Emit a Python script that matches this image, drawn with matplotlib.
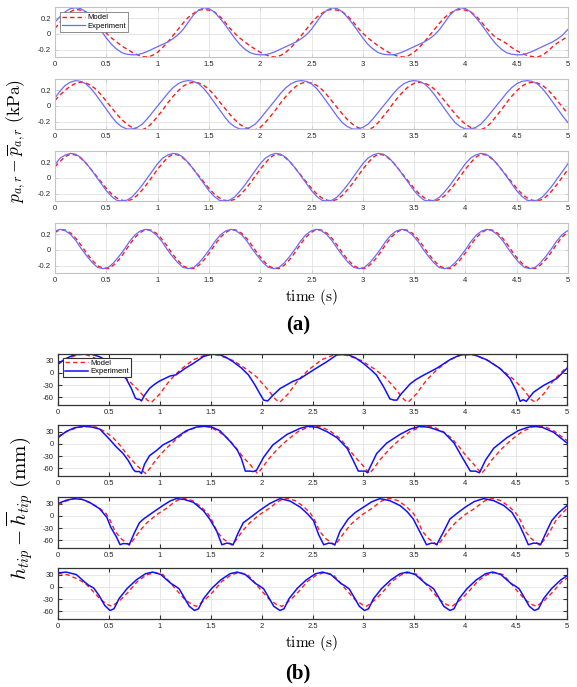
import matplotlib
matplotlib.use('Agg')
import matplotlib.pyplot as plt
import numpy as np

plt.rcParams['font.family'] = ['Liberation Sans', 'DejaVu Sans']
plt.rcParams['mathtext.fontset'] = 'cm'

# ---------------- data ----------------
# panel (a): pressure, kPa, sampled every 0.05 s (rows 1-3) / 0.052 s (row 4)
t_a = np.arange(101) * 0.05
t_a4 = np.arange(98) * 0.052

exp_a1 = [0.15, 0.22, 0.28, 0.32,
          0.33, 0.32, 0.28, 0.21, 0.13, 0.04, -0.05, -0.13, -0.19, -0.235, -0.255, -0.262, -0.262,
          -0.245, -0.22, -0.19, -0.16, -0.13, -0.10, -0.06, -0.01, 0.06, 0.15, 0.24, 0.30,
          0.33, 0.32, 0.28, 0.21, 0.13, 0.04, -0.05, -0.13, -0.19, -0.235, -0.255, -0.262, -0.262,
          -0.245, -0.22, -0.19, -0.16, -0.13, -0.10, -0.06, -0.01, 0.06, 0.15, 0.24, 0.30,
          0.33, 0.32, 0.28, 0.21, 0.13, 0.04, -0.05, -0.13, -0.19, -0.235, -0.255, -0.262, -0.262,
          -0.245, -0.22, -0.19, -0.16, -0.13, -0.10, -0.06, -0.01, 0.06, 0.15, 0.24, 0.30,
          0.33, 0.32, 0.28, 0.21, 0.13, 0.04, -0.05, -0.13, -0.19, -0.235, -0.255, -0.262, -0.262,
          -0.245, -0.22, -0.19, -0.16, -0.13, -0.10, -0.06, -0.01, 0.06]
mod_a1 = [0.07, 0.15, 0.23, 0.28,
          0.31, 0.30, 0.28, 0.23, 0.16, 0.08, 0.01, -0.05, -0.10, -0.15, -0.19, -0.23, -0.26,
          -0.285, -0.29, -0.27, -0.23, -0.17, -0.10, -0.02, 0.06, 0.14, 0.21, 0.26, 0.30,
          0.31, 0.30, 0.28, 0.23, 0.16, 0.08, 0.01, -0.05, -0.10, -0.15, -0.19, -0.23, -0.26,
          -0.285, -0.29, -0.27, -0.23, -0.17, -0.10, -0.02, 0.06, 0.14, 0.21, 0.26, 0.30,
          0.31, 0.30, 0.28, 0.23, 0.16, 0.08, 0.01, -0.05, -0.10, -0.15, -0.19, -0.23, -0.26,
          -0.285, -0.29, -0.27, -0.23, -0.17, -0.10, -0.02, 0.06, 0.14, 0.21, 0.26, 0.30,
          0.31, 0.30, 0.28, 0.23, 0.16, 0.08, 0.01, -0.05, -0.08, -0.12, -0.17, -0.21, -0.245,
          -0.27, -0.285, -0.29, -0.27, -0.22, -0.16, -0.11, -0.07, -0.03]

exp_a2 = [0.10, 0.19, 0.26, 0.30,
          0.32, 0.31, 0.28, 0.22, 0.14, 0.05, -0.04, -0.13, -0.21, -0.26, -0.29,
          -0.29, -0.27, -0.23, -0.16, -0.08, 0.00, 0.08, 0.16, 0.23, 0.28, 0.31,
          0.32, 0.31, 0.28, 0.22, 0.14, 0.05, -0.04, -0.13, -0.21, -0.26, -0.29,
          -0.29, -0.27, -0.23, -0.16, -0.08, 0.00, 0.08, 0.16, 0.23, 0.28, 0.31,
          0.32, 0.31, 0.28, 0.22, 0.14, 0.05, -0.04, -0.13, -0.21, -0.26, -0.29,
          -0.29, -0.27, -0.23, -0.16, -0.08, 0.00, 0.08, 0.16, 0.23, 0.28, 0.31,
          0.32, 0.31, 0.28, 0.22, 0.14, 0.05, -0.04, -0.13, -0.21, -0.26, -0.29,
          -0.29, -0.27, -0.23, -0.16, -0.08, 0.00, 0.08, 0.16, 0.23, 0.28, 0.31,
          0.32, 0.31, 0.28, 0.22, 0.14, 0.05, -0.04, -0.13, -0.21]
mod_a2 = [0.07, 0.14, 0.20, 0.25, 0.285,
          0.30, 0.29, 0.26, 0.21, 0.14, 0.06, -0.02, -0.10, -0.17, -0.23, -0.27,
          -0.295, -0.30, -0.27, -0.21, -0.13, -0.05, 0.04, 0.12, 0.19, 0.25, 0.285,
          0.30, 0.29, 0.26, 0.21, 0.14, 0.06, -0.02, -0.10, -0.17, -0.23, -0.27,
          -0.295, -0.30, -0.27, -0.21, -0.13, -0.05, 0.04, 0.12, 0.19, 0.25, 0.285,
          0.30, 0.29, 0.26, 0.21, 0.14, 0.06, -0.02, -0.10, -0.17, -0.23, -0.27,
          -0.295, -0.30, -0.27, -0.21, -0.13, -0.05, 0.04, 0.12, 0.19, 0.25, 0.285,
          0.30, 0.29, 0.26, 0.21, 0.14, 0.06, -0.02, -0.10, -0.17, -0.23, -0.27,
          -0.295, -0.30, -0.27, -0.21, -0.13, -0.05, 0.04, 0.12, 0.19, 0.25, 0.285,
          0.30, 0.29, 0.26, 0.21, 0.14, 0.06, -0.02, -0.10]

exp_a3 = [0.17, 0.25, 0.29,
          0.31, 0.30, 0.26, 0.19, 0.11, 0.02, -0.07, -0.16, -0.23, -0.28,
          -0.29, -0.28, -0.24, -0.17, -0.09, 0.00, 0.09, 0.18, 0.25, 0.29,
          0.31, 0.30, 0.26, 0.19, 0.11, 0.02, -0.07, -0.16, -0.23, -0.28,
          -0.29, -0.28, -0.24, -0.17, -0.09, 0.00, 0.09, 0.18, 0.25, 0.29,
          0.31, 0.30, 0.26, 0.19, 0.11, 0.02, -0.07, -0.16, -0.23, -0.28,
          -0.29, -0.28, -0.24, -0.17, -0.09, 0.00, 0.09, 0.18, 0.25, 0.29,
          0.31, 0.30, 0.26, 0.19, 0.11, 0.02, -0.07, -0.16, -0.23, -0.28,
          -0.29, -0.28, -0.24, -0.17, -0.09, 0.00, 0.09, 0.18, 0.25, 0.29,
          0.31, 0.30, 0.26, 0.19, 0.11, 0.02, -0.07, -0.16, -0.23, -0.28,
          -0.29, -0.28, -0.24, -0.17, -0.09, 0.00, 0.09, 0.18]
mod_a3 = [0.14, 0.21, 0.27,
          0.30, 0.29, 0.25, 0.19, 0.11, 0.03, -0.05, -0.13, -0.20, -0.25,
          -0.28, -0.29, -0.27, -0.22, -0.15, -0.07, 0.02, 0.11, 0.19, 0.26,
          0.30, 0.29, 0.25, 0.19, 0.11, 0.03, -0.05, -0.13, -0.20, -0.25,
          -0.28, -0.29, -0.27, -0.22, -0.15, -0.07, 0.02, 0.11, 0.19, 0.26,
          0.30, 0.29, 0.25, 0.19, 0.11, 0.03, -0.05, -0.13, -0.20, -0.25,
          -0.28, -0.29, -0.27, -0.22, -0.15, -0.07, 0.02, 0.11, 0.19, 0.26,
          0.30, 0.29, 0.25, 0.19, 0.11, 0.03, -0.05, -0.13, -0.20, -0.25,
          -0.28, -0.29, -0.27, -0.22, -0.15, -0.07, 0.02, 0.11, 0.19, 0.26,
          0.30, 0.29, 0.25, 0.19, 0.11, 0.03, -0.05, -0.13, -0.20, -0.25,
          -0.28, -0.29, -0.27, -0.22, -0.15, -0.07, 0.02, 0.11]

exp_a4 = [0.24,
          0.26, 0.24, 0.19, 0.11, 0.01, -0.08, -0.16, -0.22, -0.235, -0.22, -0.16, -0.08, 0.01, 0.11, 0.19, 0.24,
          0.26, 0.24, 0.19, 0.11, 0.01, -0.08, -0.16, -0.22, -0.235, -0.22, -0.16, -0.08, 0.01, 0.11, 0.19, 0.24,
          0.26, 0.24, 0.19, 0.11, 0.01, -0.08, -0.16, -0.22, -0.235, -0.22, -0.16, -0.08, 0.01, 0.11, 0.19, 0.24,
          0.26, 0.24, 0.19, 0.11, 0.01, -0.08, -0.16, -0.22, -0.235, -0.22, -0.16, -0.08, 0.01, 0.11, 0.19, 0.24,
          0.26, 0.24, 0.19, 0.11, 0.01, -0.08, -0.16, -0.22, -0.235, -0.22, -0.16, -0.08, 0.01, 0.11, 0.19, 0.24,
          0.26, 0.24, 0.19, 0.11, 0.01, -0.08, -0.16, -0.22, -0.235, -0.22, -0.16, -0.08, 0.01, 0.11, 0.19, 0.24,
          0.26]
mod_a4 = [0.22,
          0.26, 0.25, 0.21, 0.14, 0.05, -0.05, -0.13, -0.20, -0.23, -0.235, -0.19, -0.12, -0.03, 0.07, 0.16, 0.22,
          0.26, 0.25, 0.21, 0.14, 0.05, -0.05, -0.13, -0.20, -0.23, -0.235, -0.19, -0.12, -0.03, 0.07, 0.16, 0.22,
          0.26, 0.25, 0.21, 0.14, 0.05, -0.05, -0.13, -0.20, -0.23, -0.235, -0.19, -0.12, -0.03, 0.07, 0.16, 0.22,
          0.26, 0.25, 0.21, 0.14, 0.05, -0.05, -0.13, -0.20, -0.23, -0.235, -0.19, -0.12, -0.03, 0.07, 0.16, 0.22,
          0.26, 0.25, 0.21, 0.14, 0.05, -0.05, -0.13, -0.20, -0.23, -0.235, -0.19, -0.12, -0.03, 0.07, 0.16, 0.22,
          0.26, 0.25, 0.21, 0.14, 0.05, -0.05, -0.13, -0.20, -0.23, -0.235, -0.19, -0.12, -0.03, 0.07, 0.16, 0.22,
          0.26]

# panel (b): tip displacement, mm, (time s, value) pairs
exp_b1 = [(0, 22), (0.07, 34), (0.15, 43), (0.22, 46), (0.32, 46), (0.4, 40), (0.5, 28), (0.6, 8),
          (0.67, -15), (0.72, -38), (0.76, -62), (0.78, -65), (0.8, -65), (0.82, -69), (0.85, -55),
          (0.9, -38), (0.95, -28), (1.0, -20), (1.1, -8), (1.16, -5), (1.25, 11), (1.33, 23), (1.43, 40),
          (1.5, 45), (1.58, 45), (1.65, 38), (1.72, 27), (1.8, 12), (1.87, -5), (1.93, -28), (1.98, -50),
          (2.02, -67), (2.06, -69), (2.1, -58), (2.18, -39), (2.3, -22), (2.38, -14), (2.51, 7), (2.64, 27),
          (2.74, 44), (2.84, 45), (2.92, 37), (3.0, 23), (3.08, 6), (3.13, -6), (3.2, -35), (3.26, -64),
          (3.3, -67), (3.33, -67), (3.36, -55), (3.46, -27), (3.52, -16), (3.59, -6), (3.72, 11), (3.85, 32),
          (3.95, 44), (4.08, 45), (4.15, 38), (4.21, 32), (4.34, 11), (4.44, -14), (4.5, -43), (4.54, -70),
          (4.57, -66), (4.6, -70), (4.67, -48), (4.77, -31), (4.9, -14), (5.0, 11)]
mod_b1 = [(0, 21), (0.07, 32), (0.19, 44), (0.26, 45), (0.33, 40), (0.46, 23), (0.59, 2), (0.69, -18),
          (0.79, -43), (0.88, -68), (0.92, -72), (1.0, -52), (1.1, -18), (1.2, 7), (1.33, 32), (1.45, 44),
          (1.52, 45), (1.59, 42), (1.72, 30), (1.85, 9), (1.95, -10), (2.05, -38), (2.14, -66), (2.18, -72),
          (2.26, -52), (2.36, -18), (2.46, 7), (2.59, 32), (2.71, 44), (2.78, 45), (2.85, 42), (2.98, 30),
          (3.11, 9), (3.21, -10), (3.31, -38), (3.4, -66), (3.44, -72), (3.52, -52), (3.62, -18), (3.72, 7),
          (3.85, 32), (3.97, 44), (4.04, 45), (4.11, 42), (4.24, 28), (4.37, 5), (4.47, -15), (4.57, -40),
          (4.65, -66), (4.69, -72), (4.77, -52), (4.87, -18), (4.97, 7), (5.0, 14)]

exp_b2 = [(0, 15), (0.08, 30), (0.16, 39), (0.25, 43), (0.33, 41), (0.41, 36), (0.51, 10), (0.57, -7),
          (0.64, -24), (0.69, -41), (0.74, -63), (0.76, -68), (0.8, -68), (0.82, -73), (0.85, -50),
          (0.9, -29), (0.97, -16), (1.03, -3), (1.13, 10), (1.26, 32), (1.36, 41), (1.45, 43), (1.52, 40),
          (1.59, 32), (1.69, 6), (1.76, -15), (1.8, -35), (1.84, -67), (1.88, -67), (1.92, -68), (1.95, -65),
          (2.02, -33), (2.11, -3), (2.25, 23), (2.38, 38), (2.46, 43), (2.55, 40), (2.64, 30), (2.74, 15),
          (2.84, -11), (2.9, -41), (2.95, -67), (3.02, -67), (3.04, -71), (3.08, -50), (3.13, -24), (3.23, 2),
          (3.36, 23), (3.46, 36), (3.56, 43), (3.65, 40), (3.72, 34), (3.79, 28), (3.89, 2), (3.97, -33),
          (4.05, -67), (4.1, -67), (4.14, -71), (4.2, -40), (4.28, -11), (4.41, 15), (4.52, 32), (4.61, 40),
          (4.67, 43), (4.76, 40), (4.87, 28), (5.0, 2)]
mod_b2 = [(0, 18), (0.1, 32), (0.2, 40), (0.3, 43), (0.37, 41), (0.46, 30), (0.54, 15), (0.61, -4),
          (0.69, -30), (0.77, -52), (0.86, -73), (0.91, -58), (0.96, -40), (1.06, -12), (1.16, 11),
          (1.26, 30), (1.36, 41), (1.42, 43), (1.49, 41), (1.58, 30), (1.66, 15), (1.73, -4), (1.81, -30),
          (1.89, -52), (1.96, -73), (2.01, -58), (2.06, -40), (2.16, -12), (2.26, 11), (2.36, 30), (2.46, 41),
          (2.52, 43), (2.59, 41), (2.68, 30), (2.76, 15), (2.83, -4), (2.91, -30), (2.99, -52), (3.06, -73),
          (3.11, -58), (3.16, -40), (3.26, -12), (3.36, 11), (3.46, 30), (3.56, 41), (3.62, 43), (3.69, 41),
          (3.78, 30), (3.86, 15), (3.93, -4), (4.01, -30), (4.09, -52), (4.16, -73), (4.21, -58), (4.26, -40),
          (4.36, -12), (4.46, 11), (4.56, 30), (4.66, 41), (4.72, 43), (4.79, 41), (4.88, 30), (4.96, 15),
          (5.0, 8)]

exp_b3 = [(0, 30), (0.08, 38), (0.16, 42), (0.24, 40), (0.31, 33), (0.41, 17), (0.48, -4), (0.52, -29),
          (0.57, -50), (0.61, -71), (0.64, -68), (0.69, -69), (0.7, -71), (0.75, -42), (0.8, -17),
          (0.84, -8), (0.93, 8), (1.03, 25), (1.1, 36), (1.16, 42), (1.24, 40), (1.33, 33), (1.43, 12),
          (1.49, -8), (1.56, -38), (1.61, -71), (1.66, -67), (1.7, -69), (1.72, -71), (1.77, -42),
          (1.82, -17), (1.87, -8), (1.98, 13), (2.08, 30), (2.18, 42), (2.28, 36), (2.38, 21), (2.45, 5),
          (2.51, -12), (2.56, -46), (2.61, -71), (2.66, -67), (2.69, -68), (2.72, -71), (2.77, -38),
          (2.85, -8), (2.92, 8), (3.0, 21), (3.08, 34), (3.16, 42), (3.26, 37), (3.36, 25), (3.43, 10),
          (3.49, -8), (3.56, -42), (3.62, -71), (3.67, -67), (3.7, -68), (3.72, -71), (3.79, -38),
          (3.85, -8), (3.92, 6), (4.0, 21), (4.09, 35), (4.18, 42), (4.28, 37), (4.38, 25), (4.46, 8),
          (4.53, -21), (4.58, -48), (4.62, -71), (4.67, -67), (4.72, -68), (4.74, -71), (4.8, -38),
          (4.85, -12), (4.92, 8), (5.0, 25)]
mod_b3 = [(0, 26), (0.08, 36), (0.16, 42), (0.23, 41), (0.31, 32), (0.4, 20), (0.47, 6), (0.51, -10),
          (0.56, -38), (0.62, -56), (0.7, -72), (0.75, -56), (0.8, -38), (0.87, -18), (0.97, 3), (1.07, 19),
          (1.12, 29), (1.16, 36), (1.2, 41), (1.25, 42), (1.32, 37), (1.4, 23), (1.47, 6), (1.51, -10),
          (1.56, -38), (1.62, -56), (1.71, -72), (1.76, -56), (1.81, -38), (1.88, -18), (1.98, 3), (2.08, 19),
          (2.13, 29), (2.17, 36), (2.21, 41), (2.26, 42), (2.33, 37), (2.41, 23), (2.48, 6), (2.52, -10),
          (2.57, -38), (2.63, -56), (2.72, -72), (2.77, -56), (2.82, -38), (2.89, -18), (2.99, 3), (3.09, 19),
          (3.14, 29), (3.18, 36), (3.22, 41), (3.27, 42), (3.34, 37), (3.42, 23), (3.49, 6), (3.53, -10),
          (3.58, -38), (3.64, -56), (3.73, -72), (3.78, -56), (3.83, -38), (3.9, -18), (4.0, 3), (4.1, 19),
          (4.15, 29), (4.19, 36), (4.23, 41), (4.28, 42), (4.35, 37), (4.43, 23), (4.5, 6), (4.54, -10),
          (4.59, -38), (4.65, -56), (4.73, -72), (4.79, -55), (4.84, -35), (4.89, -12), (4.97, 10), (5.0, 18)]

exp_b4 = [(0, 34), (0.08, 36), (0.18, 30), (0.26, 12), (0.3, 4), (0.35, -3), (0.4, -20), (0.46, -46),
          (0.51, -58), (0.55, -54), (0.6, -29), (0.68, -4), (0.77, 17), (0.86, 32), (0.93, 36), (1.01, 30),
          (1.11, 8), (1.15, 2), (1.19, -5), (1.23, -22), (1.29, -48), (1.34, -58), (1.38, -54), (1.43, -29),
          (1.51, -4), (1.6, 17), (1.69, 32), (1.76, 36), (1.84, 30), (1.94, 8), (1.98, 2), (2.02, -5),
          (2.06, -22), (2.12, -48), (2.18, -58), (2.22, -54), (2.27, -29), (2.35, -4), (2.44, 17), (2.53, 32),
          (2.6, 36), (2.68, 30), (2.78, 8), (2.82, 2), (2.86, -5), (2.9, -22), (2.96, -48), (3.01, -58),
          (3.05, -54), (3.1, -29), (3.18, -4), (3.27, 17), (3.36, 32), (3.43, 36), (3.51, 30), (3.61, 8),
          (3.65, 2), (3.69, -5), (3.73, -22), (3.79, -48), (3.85, -58), (3.89, -54), (3.94, -29), (4.02, -4),
          (4.11, 17), (4.2, 32), (4.27, 36), (4.35, 30), (4.45, 8), (4.49, 2), (4.53, -5), (4.57, -22),
          (4.63, -48), (4.68, -58), (4.72, -54), (4.77, -29), (4.85, -4), (4.94, 17), (5.0, 27)]
mod_b4 = [(0, 33), (0.1, 29), (0.2, 18), (0.27, 8), (0.34, -10), (0.42, -32), (0.49, -44), (0.53, -48),
          (0.61, -33), (0.69, -13), (0.78, 13), (0.87, 29), (0.95, 35), (1.03, 30), (1.09, 14), (1.17, -10),
          (1.25, -32), (1.32, -44), (1.36, -48), (1.44, -33), (1.52, -13), (1.61, 13), (1.7, 29), (1.78, 35),
          (1.86, 30), (1.92, 14), (2.0, -10), (2.08, -32), (2.15, -44), (2.2, -48), (2.28, -33), (2.36, -13),
          (2.45, 13), (2.54, 29), (2.62, 35), (2.7, 30), (2.76, 14), (2.84, -10), (2.92, -32), (2.99, -44),
          (3.03, -48), (3.11, -33), (3.19, -13), (3.28, 13), (3.37, 29), (3.45, 35), (3.53, 30), (3.59, 14),
          (3.67, -10), (3.75, -32), (3.82, -44), (3.87, -48), (3.95, -33), (4.03, -13), (4.12, 13), (4.21, 29),
          (4.29, 35), (4.37, 30), (4.43, 14), (4.51, -10), (4.59, -32), (4.66, -44), (4.7, -48), (4.78, -33),
          (4.86, -13), (4.95, 13), (5.0, 21)]

x_ticks = [0, 0.5, 1, 1.5, 2, 2.5, 3, 3.5, 4, 4.5, 5]
x_ticklabels = ['0', '0.5', '1', '1.5', '2', '2.5', '3', '3.5', '4', '4.5', '5']
a_yticks = [-0.2, 0, 0.2]
a_yticklabels = ['-0.2', '0', '0.2']
b_yticks = [-60, -30, 0, 30]
b_yticklabels = ['-60', '-30', '0', '30']

# ---------------- figure ----------------
W, H = 577, 687
fig = plt.figure(figsize=(W / 100, H / 100), dpi=100)


def add_ax(left, top, right, bottom):
    return fig.add_axes([left / W, 1 - bottom / H, (right - left) / W, (bottom - top) / H])


def style(ax, dark):
    ax.set_xlim(0, 5)
    ax.set_xticks(x_ticks)
    ax.set_xticklabels(x_ticklabels)
    ax.grid(True, color='#e3e3e3', lw=0.6)
    ax.set_axisbelow(True)
    if dark:
        for s in ax.spines.values():
            s.set_color('#333333')
            s.set_linewidth(0.9)
        ax.tick_params(direction='in', length=3, width=0.8, top=True, right=True,
                       color='#333333', labelsize=5.5, labelcolor='#262626', pad=3)
    else:
        for s in ax.spines.values():
            s.set_color('#c4c4c4')
            s.set_linewidth(0.8)
        ax.tick_params(direction='in', length=2, width=0.5, top=True, right=True,
                       color='#c4c4c4', labelsize=5.5, labelcolor='#262626', pad=3)


a_rows = [(t_a, mod_a1, exp_a1), (t_a, mod_a2, exp_a2), (t_a, mod_a3, exp_a3), (t_a4, mod_a4, exp_a4)]
a_tops = [7, 79, 151, 223]
for i, (tt, m, e) in enumerate(a_rows):
    ax = add_ax(55, a_tops[i], 568, a_tops[i] + 50)
    ax.plot(tt, m, color='#ff1a1a', ls=(0, (3.2, 2.2)), lw=1.0, label='Model')
    ax.plot(tt, e, color='#6b6bff', lw=0.9, label='Experiment')
    ax.set_ylim(-0.29, 0.34)
    ax.set_yticks(a_yticks)
    ax.set_yticklabels(a_yticklabels)
    style(ax, False)
    if i == 0:
        leg = ax.legend(loc='upper left', bbox_to_anchor=(0.01, 0.9), borderaxespad=0, fontsize=5.5,
                        fancybox=False, edgecolor='#7a7a7a', framealpha=1, borderpad=0.25,
                        handlelength=3.0, handletextpad=0.3, labelspacing=0.15)
        leg.get_frame().set_linewidth(0.6)

b_rows = [(mod_b1, exp_b1), (mod_b2, exp_b2), (mod_b3, exp_b3), (mod_b4, exp_b4)]
b_tops = [354, 425, 497, 568]
for i, (m, e) in enumerate(b_rows):
    ax = add_ax(58, b_tops[i], 567, b_tops[i] + 51)
    tm, vm = zip(*m)
    te, ve = zip(*e)
    ax.plot(tm, vm, color='#ff2020', ls=(0, (3.2, 2.2)), lw=1.0, label='Model')
    ax.plot(te, ve, color='#1010ff', lw=1.1, label='Experiment')
    ax.set_ylim(-79, 46)
    ax.set_yticks(b_yticks)
    ax.set_yticklabels(b_yticklabels)
    style(ax, True)
    if i == 0:
        leg = ax.legend(loc='upper left', bbox_to_anchor=(0.01, 0.93), borderaxespad=0, fontsize=5.5,
                        fancybox=False, edgecolor='#333333', framealpha=1, borderpad=0.25,
                        handlelength=3.0, handletextpad=0.3, labelspacing=0.15)
        leg.get_frame().set_linewidth(0.8)

# axis titles and panel letters
fig.text(311 / W, 1 - 297 / H, r'$\mathrm{time\ (s)}$', fontsize=11, ha='center', va='center')
fig.text(311 / W, 1 - 643 / H, r'$\mathrm{time\ (s)}$', fontsize=11, ha='center', va='center')
fig.text(16 / W, 1 - 141 / H, r'$p_{a,r}-\overline{p}_{a,r}\ \mathrm{(kPa)}$', fontsize=12.5,
         rotation=90, ha='center', va='center')
fig.text(20 / W, 1 - 508 / H, r'$h_{tip}-\overline{h}_{tip}\ \mathrm{(mm)}$', fontsize=15,
         rotation=90, ha='center', va='center')
fig.text(298 / W, 1 - 325 / H, '(a)', fontsize=15, fontweight='bold', family='Liberation Serif',
         ha='center', va='center')
fig.text(298 / W, 1 - 673 / H, '(b)', fontsize=15, fontweight='bold', family='Liberation Serif',
         ha='center', va='center')

fig.savefig('out.png', dpi=100, facecolor='white')
